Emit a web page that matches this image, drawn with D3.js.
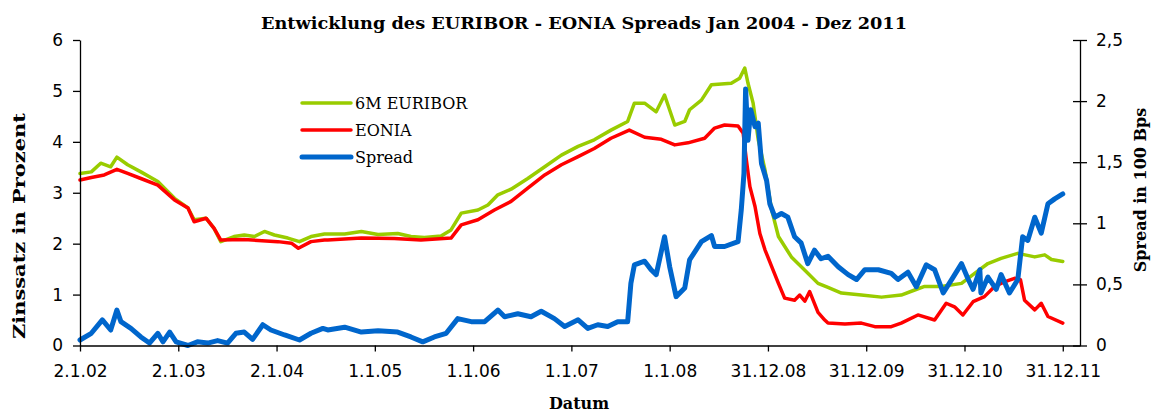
<!DOCTYPE html>
<html>
<head>
<meta charset="utf-8">
<script src="https://cdn.jsdelivr.net/npm/d3@7"></script>
<style>
  body { margin: 0; background: #fff; }
  svg { display: block; }
  .axis text { font-family: "DejaVu Sans", sans-serif; font-size: 17px; fill: #000; }
  .axis path, .axis line { stroke: #000; stroke-width: 1.3px; }
  .title { font-family: "DejaVu Serif", serif; font-weight: bold; }
</style>
</head>
<body>
<div id="chart"></div>
<script>
const WIDTH = 1154;
const HEIGHT = 415;

// x axis labels, as printed under the ticks
const tickDates = ["2002-01-02", "2003-01-02", "2004-01-02", "2005-01-01", "2006-01-01",
  "2007-01-01", "2008-01-01", "2008-12-31", "2009-12-31", "2010-12-31", "2011-12-31"];
const tickLabels = ["2.1.02", "2.1.03", "2.1.04", "1.1.05", "1.1.06", "1.1.07",
  "1.1.08", "31.12.08", "31.12.09", "31.12.10", "31.12.11"];

const leftTicks = [0, 1, 2, 3, 4, 5, 6];
const rightTicks = [0, 0.5, 1, 1.5, 2, 2.5];

const seriesNames = ["6M EURIBOR", "EONIA", "Spread"];

// 6M EURIBOR (left axis, %)
const euriborDates = ["2002-01-02", "2002-02-13", "2002-03-20", "2002-04-26", "2002-05-19",
  "2002-06-28", "2002-08-16", "2002-10-18", "2002-12-19", "2003-02-07", "2003-03-02",
  "2003-04-15", "2003-05-15", "2003-06-09", "2003-07-28", "2003-09-04", "2003-10-12",
  "2003-11-18", "2003-12-25", "2004-02-13", "2004-03-27", "2004-05-09", "2004-06-28",
  "2004-09-11", "2004-11-12", "2005-01-13", "2005-03-27", "2005-05-15", "2005-07-04",
  "2005-09-04", "2005-10-11", "2005-11-18", "2006-01-19", "2006-02-25", "2006-04-03",
  "2006-05-22", "2006-07-23", "2006-09-24", "2006-11-25", "2007-01-26", "2007-03-27",
  "2007-05-28", "2007-07-29", "2007-08-23", "2007-09-30", "2007-11-12", "2007-12-13",
  "2008-01-20", "2008-02-26", "2008-03-15", "2008-04-28", "2008-06-04", "2008-08-17",
  "2008-09-17", "2008-10-06", "2008-10-18", "2008-11-06", "2008-11-25", "2008-12-20",
  "2009-01-14", "2009-02-08", "2009-03-28", "2009-05-17", "2009-07-05", "2009-08-11",
  "2009-09-30", "2009-12-13", "2010-02-26", "2010-05-10", "2010-06-29", "2010-08-05",
  "2010-10-06", "2010-12-20", "2011-02-08", "2011-03-28", "2011-05-16", "2011-07-17",
  "2011-09-18", "2011-10-25", "2011-11-19", "2011-12-31"];
const euriborValues = [3.38, 3.41, 3.58, 3.51, 3.70,
  3.55, 3.41, 3.22, 2.89, 2.70, 2.47,
  2.50, 2.30, 2.04, 2.14, 2.17, 2.14,
  2.24, 2.17, 2.11, 2.04, 2.14, 2.19,
  2.19, 2.24, 2.18, 2.20, 2.14, 2.12,
  2.15, 2.27, 2.60, 2.66, 2.76, 2.96,
  3.07, 3.28, 3.51, 3.74, 3.91, 4.04,
  4.23, 4.40, 4.76, 4.76, 4.59, 4.92,
  4.33, 4.40, 4.63, 4.82, 5.12, 5.15,
  5.25, 5.45, 5.15, 4.76, 4.04, 3.45,
  2.66, 2.14, 1.74, 1.48, 1.22, 1.14,
  1.03, 0.99, 0.95, 0.99, 1.09, 1.16,
  1.16, 1.22, 1.42, 1.61, 1.71, 1.81,
  1.74, 1.78, 1.69, 1.65];

// EONIA (left axis, %)
const eoniaDates = ["2002-01-02", "2002-02-13", "2002-04-02", "2002-05-19", "2002-06-28",
  "2002-08-16", "2002-10-18", "2002-12-19", "2003-02-07", "2003-03-02", "2003-04-15",
  "2003-05-15", "2003-06-09", "2003-09-04", "2004-01-07", "2004-02-26", "2004-03-23",
  "2004-05-09", "2004-06-28", "2004-07-10", "2004-11-12", "2005-03-14", "2005-06-21",
  "2005-10-11", "2005-11-18", "2006-01-19", "2006-03-21", "2006-05-22", "2006-07-23",
  "2006-09-24", "2006-11-25", "2007-01-26", "2007-03-27", "2007-05-28", "2007-08-04",
  "2007-09-30", "2007-12-01", "2008-01-20", "2008-03-09", "2008-05-10", "2008-06-16",
  "2008-07-23", "2008-09-11", "2008-09-30", "2008-10-12", "2008-10-25", "2008-11-13",
  "2008-12-01", "2008-12-20", "2009-01-14", "2009-02-08", "2009-03-03", "2009-04-09",
  "2009-04-28", "2009-05-17", "2009-06-04", "2009-07-05", "2009-07-30", "2009-08-11",
  "2009-10-13", "2009-12-13", "2010-02-01", "2010-04-03", "2010-05-10", "2010-07-11",
  "2010-09-11", "2010-10-24", "2010-11-24", "2010-12-25", "2011-02-01", "2011-03-15",
  "2011-04-22", "2011-05-28", "2011-07-05", "2011-07-27", "2011-08-11", "2011-09-18",
  "2011-10-12", "2011-11-06", "2011-12-31"];
const eoniaValues = [3.25, 3.30, 3.35, 3.46, 3.38,
  3.28, 3.15, 2.86, 2.70, 2.43, 2.50,
  2.30, 2.07, 2.08, 2.04, 2.01, 1.91,
  2.04, 2.07, 2.07, 2.11, 2.10, 2.07,
  2.11, 2.37, 2.47, 2.66, 2.83, 3.09,
  3.35, 3.55, 3.71, 3.87, 4.07, 4.23,
  4.09, 4.05, 3.94, 3.98, 4.07, 4.27,
  4.33, 4.31, 4.17, 3.64, 3.12, 2.73,
  2.20, 1.88, 1.55, 1.22, 0.93, 0.89,
  0.99, 0.87, 1.06, 0.65, 0.50, 0.44,
  0.42, 0.44, 0.37, 0.37, 0.44, 0.60,
  0.50, 0.83, 0.76, 0.60, 0.86, 0.96,
  1.16, 1.25, 1.32, 1.29, 0.89, 0.70,
  0.83, 0.57, 0.44];

// Spread (right axis, 100 Bps)
const spreadDates = ["2002-01-02", "2002-02-13", "2002-03-26", "2002-04-26", "2002-05-19",
  "2002-06-03", "2002-07-10", "2002-08-16", "2002-09-17", "2002-10-18", "2002-11-06",
  "2002-12-01", "2002-12-25", "2003-02-07", "2003-03-14", "2003-04-21", "2003-05-28",
  "2003-07-04", "2003-08-04", "2003-09-04", "2003-10-05", "2003-11-12", "2003-12-12",
  "2004-02-01", "2004-03-27", "2004-05-09", "2004-06-22", "2004-07-10", "2004-09-11",
  "2004-11-12", "2005-01-13", "2005-03-27", "2005-05-15", "2005-06-28", "2005-08-10",
  "2005-09-23", "2005-11-05", "2005-12-25", "2006-02-13", "2006-04-03", "2006-04-28",
  "2006-06-16", "2006-08-04", "2006-09-11", "2006-10-30", "2006-12-07", "2007-01-26",
  "2007-03-03", "2007-04-09", "2007-05-16", "2007-06-22", "2007-07-29", "2007-08-10",
  "2007-08-23", "2007-09-30", "2007-10-24", "2007-11-12", "2007-12-13", "2008-01-01",
  "2008-01-25", "2008-02-26", "2008-03-15", "2008-04-28", "2008-06-04", "2008-06-16",
  "2008-07-23", "2008-09-11", "2008-09-23", "2008-10-03", "2008-10-09", "2008-10-18",
  "2008-10-28", "2008-11-13", "2008-11-25", "2008-12-07", "2008-12-26", "2009-01-07",
  "2009-01-26", "2009-02-19", "2009-03-15", "2009-04-09", "2009-05-03", "2009-05-28",
  "2009-06-22", "2009-07-16", "2009-08-11", "2009-09-18", "2009-10-25", "2009-11-25",
  "2009-12-26", "2010-02-14", "2010-04-03", "2010-04-28", "2010-06-04", "2010-07-05",
  "2010-08-11", "2010-09-11", "2010-10-13", "2010-11-19", "2010-12-20", "2011-01-14",
  "2011-02-01", "2011-02-26", "2011-03-02", "2011-03-28", "2011-04-28", "2011-05-16",
  "2011-06-16", "2011-07-17", "2011-08-04", "2011-08-23", "2011-09-18", "2011-10-12",
  "2011-11-06", "2011-12-01", "2011-12-31"];
const spreadValues = [0.045, 0.10, 0.21, 0.127, 0.29,
  0.195, 0.14, 0.07, 0.02, 0.10, 0.03,
  0.11, 0.03, 0.0, 0.03, 0.02, 0.04,
  0.02, 0.10, 0.11, 0.05, 0.17, 0.127,
  0.086, 0.045, 0.10, 0.14, 0.127, 0.15,
  0.11, 0.12, 0.11, 0.07, 0.03, 0.07,
  0.10, 0.22, 0.195, 0.195, 0.29, 0.235,
  0.26, 0.235, 0.28, 0.22, 0.155, 0.21,
  0.14, 0.17, 0.155, 0.195, 0.195, 0.51,
  0.66, 0.69, 0.62, 0.58, 0.89, 0.645,
  0.40, 0.47, 0.70, 0.85, 0.90, 0.81,
  0.81, 0.85, 1.11, 1.41, 2.10, 1.68,
  1.93, 1.79, 1.82, 1.49, 1.35, 1.16,
  1.05, 1.08, 1.05, 0.89, 0.84, 0.67,
  0.78, 0.71, 0.73, 0.645, 0.58, 0.54,
  0.62, 0.62, 0.59, 0.54, 0.60, 0.48,
  0.66, 0.62, 0.43, 0.56, 0.67, 0.54,
  0.46, 0.62, 0.43, 0.56, 0.46, 0.58,
  0.43, 0.54, 0.89, 0.86, 1.05, 0.92,
  1.16, 1.20, 1.24];

const parseDate = d3.timeParse("%Y-%m-%d");

const svg = d3
  .select("#chart")
  .append("svg")
  .attr("width", WIDTH)
  .attr("height", HEIGHT);

const xScale = d3
  .scaleTime()
  .domain([parseDate("2002-01-02"), parseDate("2012-03-04")])
  .range([80, 1080]);

const yLeft = d3.scaleLinear().domain([0, 6]).range([345.5, 40]);
const yRight = d3.scaleLinear().domain([0, 2.5]).range([345.5, 40]);

function drawSeries(dates, values, yScale, color, width) {
  const points = dates.map((d, i) => [parseDate(d), values[i]]);
  const line = d3
    .line()
    .x(d => xScale(d[0]))
    .y(d => yScale(d[1]));
  svg
    .append("path")
    .datum(points)
    .attr("d", line)
    .attr("fill", "none")
    .attr("stroke", color)
    .attr("stroke-width", width)
    .attr("stroke-linejoin", "round")
    .attr("stroke-linecap", "round");
}

drawSeries(euriborDates, euriborValues, yLeft, "#99cc00", 3.5);
drawSeries(eoniaDates, eoniaValues, yLeft, "#ff0000", 3.5);
drawSeries(spreadDates, spreadValues, yRight, "#0066cc", 5);

// axes
const xAxis = d3
  .axisBottom(xScale)
  .tickValues(tickDates.map(parseDate))
  .tickFormat((d, i) => tickLabels[i])
  .tickSizeInner(6)
  .tickSizeOuter(0)
  .tickPadding(13);
svg
  .append("g")
  .attr("class", "axis")
  .attr("transform", "translate(0,345.5)")
  .call(xAxis);

const leftAxis = d3
  .axisLeft(yLeft)
  .tickValues(leftTicks)
  .tickFormat(d3.format("d"))
  .tickSizeInner(7)
  .tickSizeOuter(0)
  .tickPadding(10);
svg
  .append("g")
  .attr("class", "axis")
  .attr("transform", "translate(80,0)")
  .call(leftAxis);

const rightAxis = d3
  .axisRight(yRight)
  .tickValues(rightTicks)
  .tickFormat(d => String(d).replace(".", ","))
  .tickSizeInner(7)
  .tickSizeOuter(0)
  .tickPadding(9);
const rightG = svg
  .append("g")
  .attr("class", "axis")
  .attr("transform", "translate(1080,0)")
  .call(rightAxis);
rightG.selectAll(".tick line").attr("x1", -7);

// titles
svg
  .append("text")
  .attr("class", "title")
  .attr("x", 584)
  .attr("y", 29)
  .attr("text-anchor", "middle")
  .attr("textLength", 646)
  .attr("lengthAdjust", "spacingAndGlyphs")
  .style("font-size", "17.5px")
  .text("Entwicklung des EURIBOR - EONIA Spreads Jan 2004 - Dez 2011");

svg
  .append("text")
  .attr("class", "title")
  .attr("x", 579)
  .attr("y", 409)
  .attr("text-anchor", "middle")
  .style("font-size", "16px")
  .text("Datum");

svg
  .append("text")
  .attr("class", "title")
  .attr("transform", "translate(25,226) rotate(-90)")
  .attr("text-anchor", "middle")
  .attr("textLength", 226)
  .attr("lengthAdjust", "spacingAndGlyphs")
  .style("font-size", "17px")
  .text("Zinssatz in Prozent");

svg
  .append("text")
  .attr("class", "title")
  .attr("transform", "translate(1146,190) rotate(-90)")
  .attr("text-anchor", "middle")
  .style("font-size", "16px")
  .text("Spread in 100 Bps");

// legend
const legendColors = ["#99cc00", "#ff0000", "#0066cc"];
const legendWidths = [3.5, 3.5, 5];
const legend = svg.append("g").attr("transform", "translate(302,103)");
seriesNames.forEach((name, i) => {
  const row = legend.append("g").attr("transform", `translate(0,${i * 27})`);
  row
    .append("line")
    .attr("x1", 0)
    .attr("x2", 49)
    .attr("stroke", legendColors[i])
    .attr("stroke-width", legendWidths[i])
    .attr("stroke-linecap", "round");
  row
    .append("text")
    .attr("x", 53)
    .attr("y", 6)
    .style("font-family", "DejaVu Serif, serif")
    .style("font-size", "16px")
    .text(name);
});
</script>
</body>
</html>
